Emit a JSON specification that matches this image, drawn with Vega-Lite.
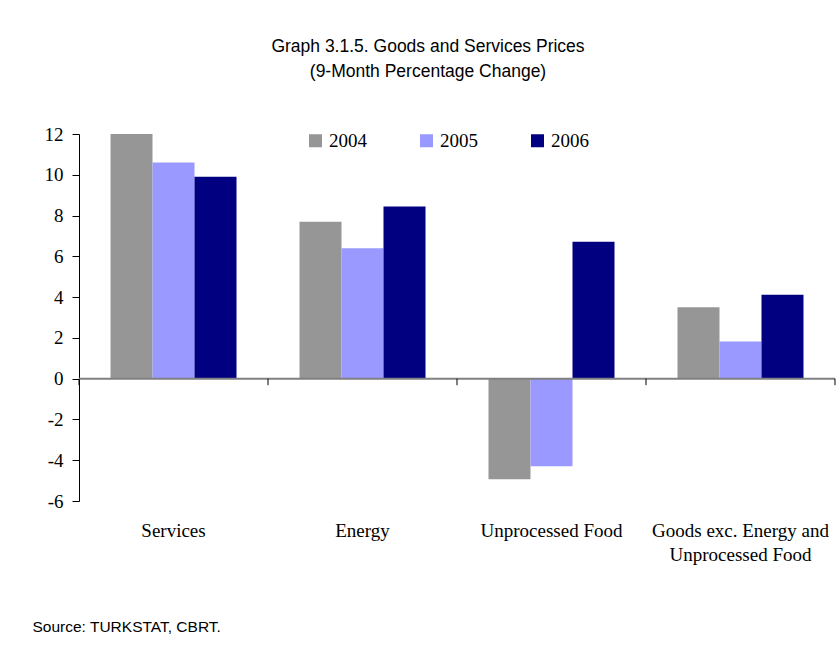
{
  "$schema": "https://vega.github.io/schema/vega-lite/v6.json",
  "width": 756,
  "height": 367,
  "autosize": {"type": "none"},
  "padding": {"left": 79, "top": 134, "right": 5, "bottom": 144},
  "background": "white",
  "title": {
    "text": ["Graph 3.1.5. Goods and Services Prices", "(9-Month Percentage Change)"],
    "font": "Liberation Sans, Arial, sans-serif",
    "fontSize": 17.5,
    "fontWeight": "normal",
    "color": "black",
    "lineHeight": 25,
    "anchor": "middle",
    "dx": -29,
    "offset": 45
  },
  "config": {
    "view": {"stroke": null},
    "axis": {"grid": false}
  },
  "data": {
    "values": [
      {"category": "Services", "year": "2004", "value": 12.0},
      {"category": "Services", "year": "2005", "value": 10.6},
      {"category": "Services", "year": "2006", "value": 9.9},
      {"category": "Energy", "year": "2004", "value": 7.7},
      {"category": "Energy", "year": "2005", "value": 6.4},
      {"category": "Energy", "year": "2006", "value": 8.45},
      {"category": "Unprocessed Food", "year": "2004", "value": -4.93},
      {"category": "Unprocessed Food", "year": "2005", "value": -4.3},
      {"category": "Unprocessed Food", "year": "2006", "value": 6.72},
      {"category": "Goods exc. Energy and Unprocessed Food", "year": "2004", "value": 3.5},
      {"category": "Goods exc. Energy and Unprocessed Food", "year": "2005", "value": 1.82},
      {"category": "Goods exc. Energy and Unprocessed Food", "year": "2006", "value": 4.12}
    ]
  },
  "layer": [
    {
      "mark": {"type": "bar"},
      "encoding": {
        "x": {
          "field": "category",
          "type": "nominal",
          "sort": null,
          "scale": {"paddingInner": 0.3333, "paddingOuter": 0.1667},
          "axis": {
            "title": "Source: TURKSTAT, CBRT.",
            "titleFont": "Liberation Sans, Arial, sans-serif",
            "titleFontSize": 15.5,
            "titleFontWeight": "normal",
            "titleColor": "black",
            "titleAnchor": "start",
            "titleAlign": "left",
            "titleBaseline": "middle",
            "titleX": -47,
            "titleY": 125,
            "domain": false,
            "ticks": false,
            "labelAngle": 0,
            "labelFont": "Liberation Serif, Times New Roman, serif",
            "labelFontSize": 19,
            "labelColor": "black",
            "labelPadding": 20,
            "labelLineHeight": 24,
            "labelLimit": 400,
            "labelExpr": "datum.label == 'Goods exc. Energy and Unprocessed Food' ? ['Goods exc. Energy and', 'Unprocessed Food'] : datum.label"
          }
        },
        "xOffset": {"field": "year", "type": "nominal", "scale": {"paddingInner": 0, "paddingOuter": 0}},
        "y": {
          "field": "value",
          "type": "quantitative",
          "scale": {"domain": [-6, 12], "nice": false, "zero": false},
          "axis": {
            "title": null,
            "values": [-6, -4, -2, 0, 2, 4, 6, 8, 10, 12],
            "labelExpr": "replace(datum.label, '−', '-')",
            "domainColor": "black",
            "tickColor": "black",
            "tickSize": 7,
            "labelPadding": 9,
            "labelFont": "Liberation Serif, Times New Roman, serif",
            "labelFontSize": 19,
            "labelColor": "black"
          }
        },
        "color": {
          "field": "year",
          "type": "nominal",
          "scale": {"domain": ["2004", "2005", "2006"], "range": ["#969696", "#9999FF", "#000080"]},
          "legend": {
            "title": null,
            "orient": "none",
            "legendX": 227,
            "legendY": -3,
            "direction": "horizontal",
            "padding": 0,
            "symbolType": "square",
            "symbolSize": 169,
            "symbolStrokeWidth": 0,
            "labelOffset": 4,
            "columnPadding": 50,
            "labelFont": "Liberation Serif, Times New Roman, serif",
            "labelFontSize": 19,
            "labelColor": "black"
          }
        }
      }
    },
    {
      "data": {"values": [{"y": 0}]},
      "mark": {"type": "rule", "color": "#808080", "strokeWidth": 2},
      "encoding": {"y": {"field": "y", "type": "quantitative"}}
    },
    {
      "data": {"values": [
        {"category": "Services"},
        {"category": "Energy"},
        {"category": "Unprocessed Food"},
        {"category": "Goods exc. Energy and Unprocessed Food"}
      ]},
      "mark": {"type": "rule", "color": "black", "strokeWidth": 1},
      "encoding": {
        "x": {"field": "category", "type": "nominal", "sort": null, "bandPosition": -0.25},
        "y": {"datum": 0},
        "y2": {"datum": -0.32}
      }
    },
    {
      "data": {"values": [{"category": "Goods exc. Energy and Unprocessed Food"}]},
      "mark": {"type": "rule", "color": "black", "strokeWidth": 1},
      "encoding": {
        "x": {"field": "category", "type": "nominal", "sort": null, "bandPosition": 1.25},
        "y": {"datum": 0},
        "y2": {"datum": -0.32}
      }
    }
  ]
}
